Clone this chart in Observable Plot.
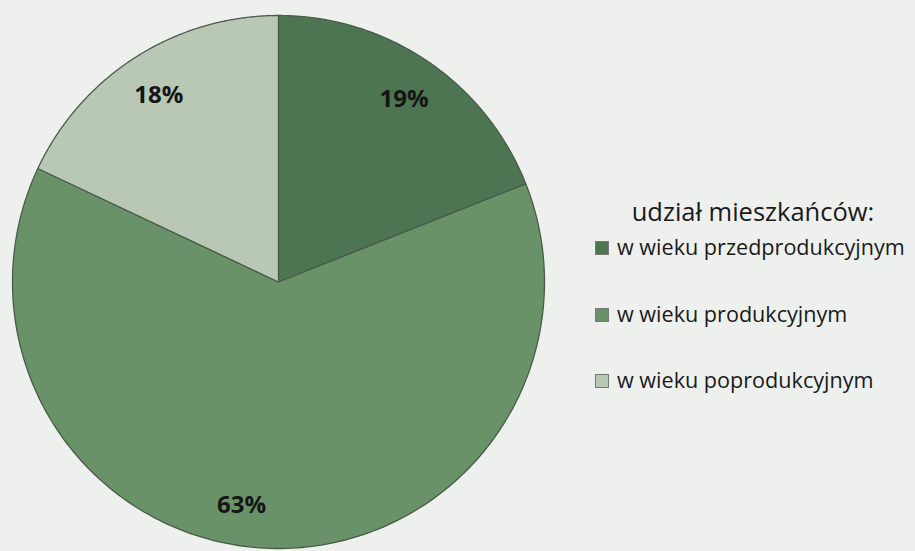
<!DOCTYPE html>
<html><head><meta charset="utf-8">
<script src="https://cdn.jsdelivr.net/npm/d3@7"></script>
<script src="https://cdn.jsdelivr.net/npm/@observablehq/plot@0.6"></script>
<style>
html,body{margin:0;padding:0;background:#eef0ee;}
#wrap{position:relative;width:915px;height:551px;overflow:hidden;font-family:"Open Sans",sans-serif;}
#legend{position:absolute;left:0;top:0;width:915px;height:551px;pointer-events:none;}
.lt{position:absolute;left:598px;width:310px;text-align:center;top:194px;font-size:25.5px;color:#1a1a1a;}
.li{position:absolute;left:595px;font-size:21.6px;color:#1a1a1a;white-space:nowrap;line-height:26px;}
.sw{display:inline-block;width:12px;height:12px;border:1px solid #777;margin-right:8px;vertical-align:0px;}
</style></head>
<body><div id="wrap"><div id="chart"></div><div id="legend"></div></div>
<script>
const categories = ["w wieku przedprodukcyjnym", "w wieku produkcyjnym", "w wieku poprodukcyjnym"];
const values = [19, 63, 18];
const labels = ["19%", "63%", "18%"];
const colors = ["#4e7552", "#6a9268", "#b9c8b5"];
const legendTitle = "udział mieszkańców:";

const arcs = d3.pie().sort(null).startAngle(0).endAngle(2*Math.PI)(values);
const pts = [];
arcs.forEach((a, i) => {
  pts.push({cat: categories[i], x: 0, y: 0});
  const n = 200;
  for (let k = 0; k <= n; k++) {
    const t = a.startAngle + (a.endAngle - a.startAngle) * k / n;
    pts.push({cat: categories[i], x: Math.sin(t), y: Math.cos(t)});
  }
});
const lab = arcs.map((a, i) => {
  const m = (a.startAngle + a.endAngle) / 2;
  return {label: labels[i], x: 0.84 * Math.sin(m), y: 0.84 * Math.cos(m), big: i === 1};
});

const plot = Plot.plot({
  width: 915, height: 551, margin: 0,
  style: {background: "transparent", overflow: "visible"},
  x: {domain: [-1, 1], range: [12, 544], axis: null},
  y: {domain: [-1, 1], range: [548, 15], axis: null},
  color: {domain: categories, range: colors},
  marks: [
    Plot.line(pts, {x: "x", y: "y", z: "cat", fill: "cat", stroke: "#4a5a4a", strokeWidth: 1.3, curve: "linear-closed"}),
    Plot.text(lab.filter(d => !d.big), {x: "x", y: "y", text: "label", dy: 2, fontSize: 24, fontWeight: "bold", fill: "#151515", fontFamily: "Open Sans"}),
    Plot.text(lab.filter(d => d.big), {x: "x", y: "y", text: "label", dx: -30, fontSize: 24, fontWeight: "bold", fill: "#151515", fontFamily: "Open Sans"})
  ]
});
document.getElementById("chart").appendChild(plot);

const lg = document.getElementById("legend");
const t = document.createElement("div"); t.className = "lt"; t.textContent = legendTitle; lg.appendChild(t);
const tops = [234, 301, 367];
categories.forEach((c, i) => {
  const d = document.createElement("div"); d.className = "li"; d.style.top = tops[i] + "px";
  d.innerHTML = `<span class="sw" style="background:${colors[i]}"></span>`;
  d.appendChild(document.createTextNode(c));
  lg.appendChild(d);
});
</script></body></html>
